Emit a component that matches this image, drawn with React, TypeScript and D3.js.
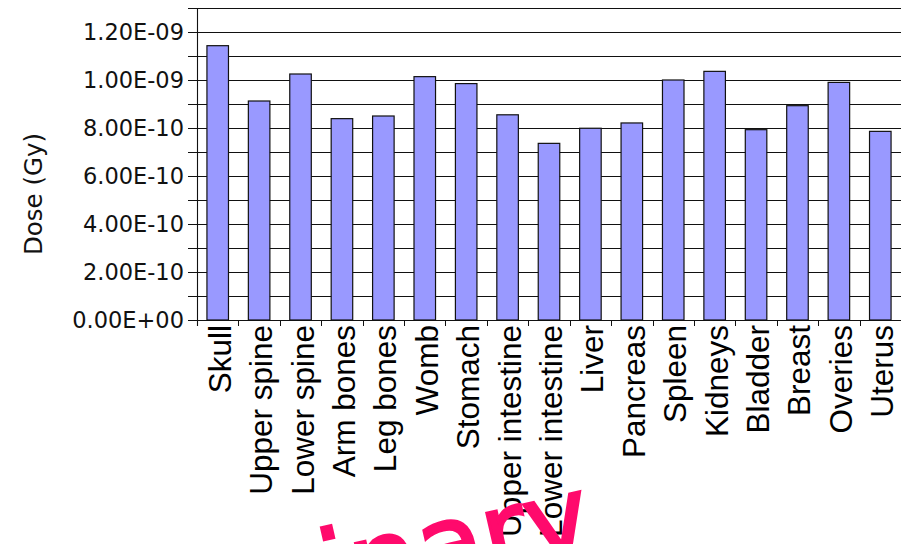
import React from "react";
import * as d3 from "d3";

const categories = [
  "Skull", "Upper spine", "Lower spine", "Arm bones", "Leg bones", "Womb",
  "Stomach", "Upper intestine", "Lower intestine", "Liver", "Pancreas",
  "Spleen", "Kidneys", "Bladder", "Breast", "Overies", "Uterus",
];
const doses = [
  1.143e-9, 0.9125e-9, 1.025e-9, 0.839e-9, 0.85e-9, 1.014e-9,
  0.985e-9, 0.855e-9, 0.736e-9, 0.799e-9, 0.821e-9,
  1.0e-9, 1.036e-9, 0.793e-9, 0.893e-9, 0.99e-9, 0.786e-9,
];
const yMajorTicks = [0, 2e-10, 4e-10, 6e-10, 8e-10, 1e-9, 1.2e-9];
const yGridTicks = [0, 1e-10, 2e-10, 3e-10, 4e-10, 5e-10, 6e-10, 7e-10, 8e-10, 9e-10, 1e-9, 1.1e-9, 1.2e-9, 1.3e-9];
const yTitle = "Dose (Gy)";
const annotation = "inary";

const W = 901, H = 544;
const left = 197, right = 901, top = 8, bottom = 320;

function fmt(v: number): string {
  if (v === 0) return "0.00E+00";
  const e = Math.floor(Math.log10(v) + 1e-9);
  const m = v / Math.pow(10, e);
  const sign = e < 0 ? "-" : "+";
  const ae = Math.abs(e);
  return `${m.toFixed(2)}E${sign}${ae < 10 ? "0" + ae : ae}`;
}

export default function App() {
  const x = d3.scaleBand<string>().domain(categories).range([left, right]).paddingInner(0.48).paddingOuter(0.24);
  const y = d3.scaleLinear().domain([0, 1.3e-9]).range([bottom, top]);
  const step = x.step();
  const boundaries = d3.range(categories.length + 1).map((i) => left + i * step);
  const yFont = "'DejaVu Sans', sans-serif";
  const xFont = "'Liberation Sans', Arial, sans-serif";
  return (
    <svg width={W} height={H} style={{ position: "absolute", left: 0, top: 0, background: "#fff" }}>
      <rect x={0} y={0} width={W} height={H} fill="#fff" />
      {yGridTicks.map((t, i) => (
        <line key={"g" + i} x1={188} x2={right} y1={Math.round(y(t)) + 0.5} y2={Math.round(y(t)) + 0.5} stroke="#111" strokeWidth={1.1} />
      ))}
      {categories.map((c, i) => (
        <rect key={"b" + i} x={x(c)!} y={y(doses[i])} width={x.bandwidth()} height={bottom - y(doses[i])}
          fill="#9999ff" stroke="#111" strokeWidth={1.2} />
      ))}
      <line x1={left + 0.5} x2={left + 0.5} y1={top} y2={bottom + 6} stroke="#111" strokeWidth={1.1} />
      <line x1={188} x2={right} y1={bottom + 0.5} y2={bottom + 0.5} stroke="#111" strokeWidth={1.2} />
      {boundaries.map((b, i) => (
        <line key={"xt" + i} x1={Math.round(b) + 0.5} x2={Math.round(b) + 0.5} y1={bottom} y2={bottom + 6} stroke="#111" strokeWidth={1} />
      ))}
      {yMajorTicks.map((t, i) => (
        <text key={"yl" + i} x={184} y={y(t)} dy="0.36em" textAnchor="end" fontFamily={yFont} fontSize={22.5} fill="#111">
          {fmt(t)}
        </text>
      ))}
      <text transform={`translate(42, 194) rotate(-90)`} textAnchor="middle" fontFamily={yFont} fontSize={24.5} fill="#111">
        {yTitle}
      </text>
      {categories.map((c, i) => (
        <text key={"xl" + i} transform={`translate(${x(c)! + x.bandwidth() / 2 + 13}, ${bottom + 5}) rotate(-90)`}
          textAnchor="end" fontFamily={xFont} fontSize={31.5} fill="#000">
          {c}
        </text>
      ))}
      <text transform="translate(330, 610) rotate(-13)" fontFamily="'DejaVu Sans', sans-serif"
        fontSize={108} fill="#ff0a6c" stroke="#ff0a6c" strokeWidth={3}>
        {annotation}
      </text>
    </svg>
  );
}
